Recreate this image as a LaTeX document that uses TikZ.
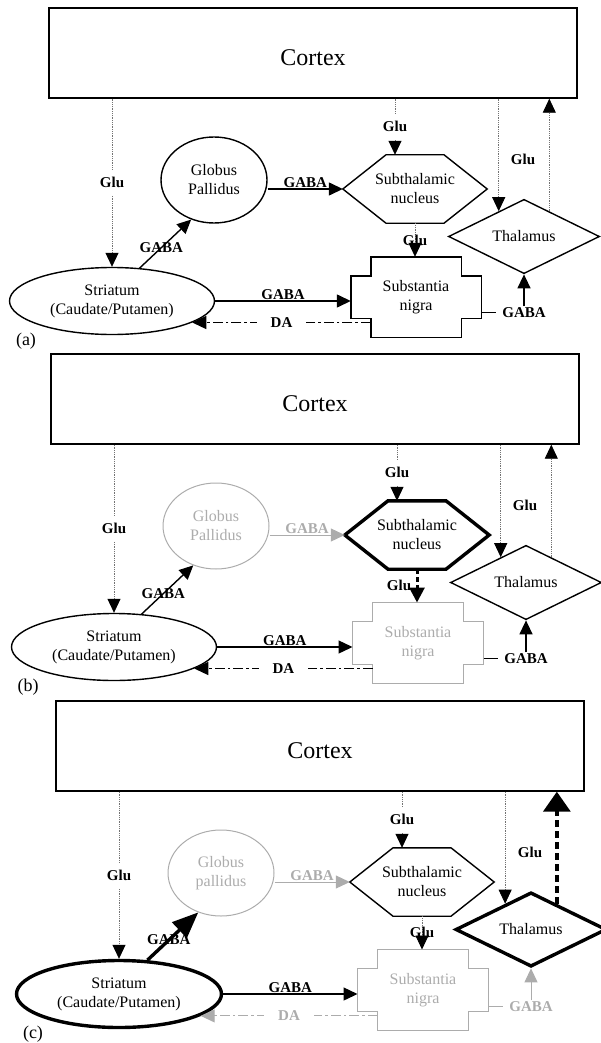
\documentclass[tikz,border=0pt]{standalone}
\usepackage{fontspec}
\setmainfont{Liberation Serif}
\usetikzlibrary{positioning,shapes.geometric,arrows.meta}

\tikzset{
  organ/.style={inner sep=0pt, align=center, font=\fontsize{16}{19}\selectfont},
  outline/.style={line width=1.4pt},
  cortexbox/.style={draw, outline, minimum width=528pt, minimum height=90pt,
                    text height=26pt, font=\fontsize{24}{28}\selectfont},
  strnode/.style={organ, draw, outline, ellipse, minimum width=205pt, minimum height=67pt},
  gpnode/.style={organ, draw, outline, ellipse, minimum width=106pt, minimum height=86pt},
  stnnode/.style={organ, minimum width=144pt, minimum height=68pt},
  thalnode/.style={organ, draw, outline, diamond, minimum width=151pt, minimum height=63pt},
  snnode/.style={organ, minimum width=130pt, minimum height=80pt},
  lbl/.style={font=\fontsize{15}{17}\selectfont\bfseries, inner sep=1pt},
  cutlbl/.style={lbl, fill=white, inner xsep=3pt, inner ysep=7pt},
  tagnode/.style={font=\fontsize{18}{20}\selectfont},
  arrowhd/.style={-{Triangle[length=14pt,width=13pt]}},
  glu/.style={draw=black!55, densely dotted, line width=0.8pt,
              -{Triangle[length=14pt,width=13pt,black]}},
  gaba/.style={line width=1.4pt, arrowhd},
  da/.style={line width=1.2pt, dash pattern=on 10pt off 3pt on 2.5pt off 3pt, arrowhd},
  faded/.style={color=gray!65, line width=1pt},
  % switches for each panel, empty in (a)
  strx/.style={}, gpx/.style={}, stnx/.style={}, thalx/.style={}, snx/.style={},
  str2gp/.style={}, gp2stn/.style={}, stn2sn/.style={}, stn2snlbl/.style={},
  thal2cx/.style={}, sn2str/.style={}, sn2thal/.style={}
}

% #1 name suffix, #2 panel letter, #3 second word of globus pallidus
\newcommand{\bgpanel}[3]{%
  \node[cortexbox] (cx#1) at (313,53) {Cortex};
  \node[strnode, strx] (str#1) at (112,301) {Striatum\\(Caudate/Putamen)};
  \node[gpnode, gpx] (gp#1) at (214,180) {Globus\\#3};
  \node[stnnode] (stn#1) at (415,189) {Subthalamic\\nucleus};
  \draw[outline, stnx] (stn#1.west) -- ([xshift=-29pt]stn#1.north) -- ([xshift=29pt]stn#1.north)
    -- (stn#1.east) -- ([xshift=29pt]stn#1.south) -- ([xshift=-29pt]stn#1.south) -- cycle;
  \node[thalnode, thalx] (thal#1) at (524,236.5) {Thalamus};
  \node[snnode, snx] (sn#1) at (416,297) {Substantia\\nigra};
  \draw[outline, snx] ([xshift=20pt]sn#1.north west) -- ([xshift=-20pt]sn#1.north east)
    -- ++(0,19) -- ++(20,0) -- ([yshift=19pt]sn#1.south east) -- ++(-20,0)
    -- ([xshift=-20pt]sn#1.south east) -- ([xshift=20pt]sn#1.south west)
    -- ++(0,-19) -- ++(-20,0) -- ([yshift=-19pt]sn#1.north west) -- ++(20,0) -- cycle;
  \coordinate (snin#1) at ([xshift=20pt]sn#1.south west);

  % glutamate from and to the cortex
  \draw[glu] (str#1.north |- cx#1.south) -- node[cutlbl] (gluA#1) {Glu} (str#1.north);
  \draw[glu] ([xshift=-20pt]stn#1.north |- cx#1.south)
    -- node[cutlbl] (gluB#1) {Glu} ([xshift=-20pt]stn#1.north);
  \draw[glu] (thal#1.135 |- cx#1.south) -- (thal#1.135);
  \draw[glu, thal2cx] (thal#1.45) -- (thal#1.45 |- cx#1.south);
  \node[lbl] (gluC#1) at (523,159) {Glu};
  \draw[glu, stn2sn] (stn#1.south)
    -- node[lbl, stn2snlbl] (gluD#1) {Glu} (stn#1.south |- sn#1.north);

  % GABA and DA
  \draw[gaba, str2gp] (str#1.50) -- node[lbl, pos=0.42] (gabaA#1) {GABA} (gp#1.240);
  \draw[gaba, gp2stn] (gp#1.east |- stn#1.west)
    -- node[lbl, above, gp2stn] (gabaB#1) {GABA} (stn#1.west);
  \draw[gaba] (str#1.east) -- node[lbl, above] (gabaC#1) {GABA} (str#1.east -| sn#1.west);
  \draw[da, sn2str] (str#1.345 -| snin#1)
    -- node[sn2str, cutlbl, inner xsep=14pt] (da#1) {DA} (str#1.345);
  \node[lbl, sn2thal, below=32pt of thal#1.south] (gabaD#1) {GABA};
  \draw[line width=1.4pt, sn2thal, shorten >=5pt] (sn#1.east |- gabaD#1.west) -- (gabaD#1.west);
  \draw[gaba, sn2thal] (gabaD#1.north) -- (thal#1.south);

  \node[tagnode] (tag#1) at (26,341) {(#2)};
}

\begin{document}
\begin{tikzpicture}[x=1pt, y=-1pt]
  \useasboundingbox (0,0) rectangle (601,1043);

  % (a) intact circuit
  \bgpanel{a}{a}{Pallidus}

  % (b) subthalamic nucleus overactive
  \begin{scope}[shift={(2,346)},
      gpx/.style={faded}, gp2stn/.style={faded}, snx/.style={faded},
      stnx/.style={line width=3.4pt},
      stn2sn/.style={draw=black, line width=3pt, dash pattern=on 5pt off 3pt,
                     -{Triangle[length=15pt,width=15pt]}},
      stn2snlbl/.style={xshift=-18pt}]
    \bgpanel{b}{b}{Pallidus}
  \end{scope}

  % (c) striatum and thalamus overactive
  \begin{scope}[shift={(7,693)},
      gpx/.style={faded}, gp2stn/.style={faded}, snx/.style={faded},
      sn2str/.style={faded}, sn2thal/.style={faded},
      strx/.style={line width=3.4pt}, thalx/.style={line width=3.4pt},
      str2gp/.style={line width=3.4pt, -{Triangle[length=26pt,width=21pt]}},
      thal2cx/.style={draw=black, line width=3.4pt, dash pattern=on 7pt off 4pt,
                      -{Triangle[length=20pt,width=27pt]}}]
    \bgpanel{c}{c}{pallidus}
  \end{scope}
\end{tikzpicture}
\end{document}
